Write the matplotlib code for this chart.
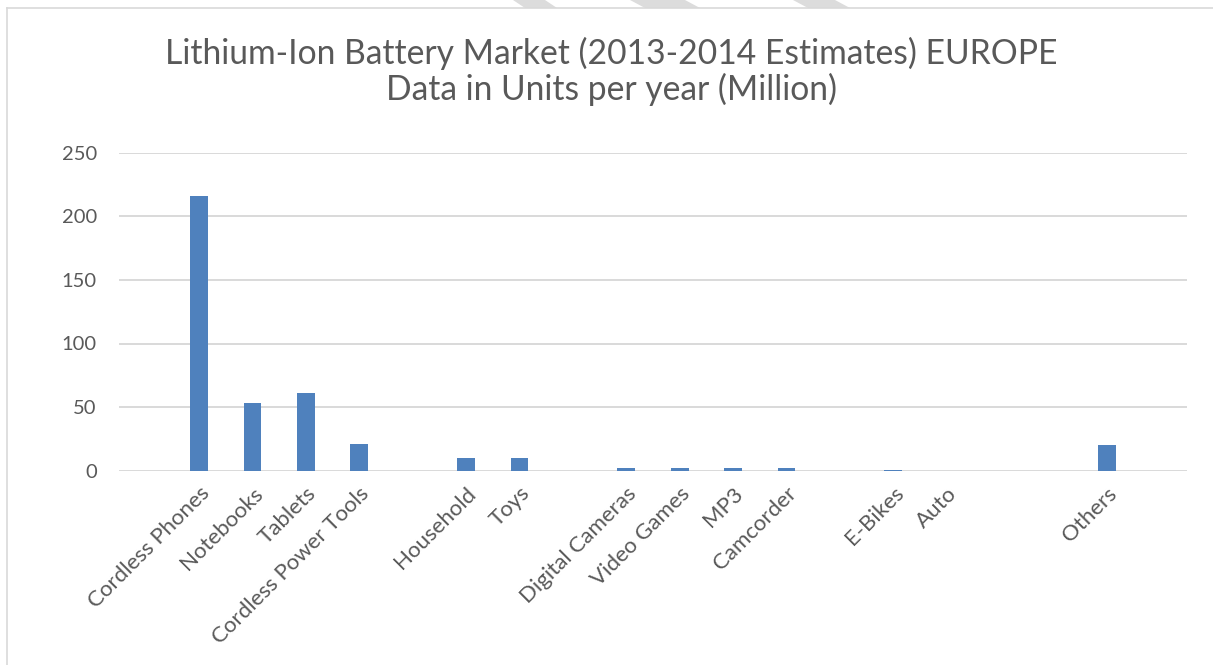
import numpy as np
import matplotlib
matplotlib.use("Agg")
import matplotlib.pyplot as plt
from matplotlib.patches import Polygon
from matplotlib.lines import Line2D

# data (million units); blank slots are empty categories
categories = ['', 'Cordless Phones', 'Notebooks', 'Tablets', 'Cordless Power Tools', '',
              'Household', 'Toys', '', 'Digital Cameras', 'Video Games', 'MP3', 'Camcorder', '',
              'E-Bikes', 'Auto', '', '', 'Others', '']
units = [np.nan, 216, 53, 61, 21, np.nan,
         10, 10, np.nan, 2, 2, 2, 2, np.nan,
         0.5, 0, np.nan, np.nan, 20, np.nan]
yticks = [0, 50, 100, 150, 200, 250]

title_lines = ['Lithium-Ion Battery Market (2013-2014 Estimates) EUROPE',
               'Data in Units per year (Million)']

text_color = '#595959'
bar_color = '#4f81bd'
grid_color = '#d9d9d9'

plt.rcParams['font.family'] = ['Lato', 'DejaVu Sans']

W, H = 1213, 665
fig = plt.figure(figsize=(W / 100, H / 100), dpi=100)
ax = fig.add_axes([119 / W, 1 - 470.7 / H, (1187 - 119) / W, (470.7 - 152.7) / H])

x = np.arange(len(categories))
ax.bar(x, units, width=0.33, color=bar_color, zorder=3)

ax.set_xlim(-0.5, len(categories) - 0.5)
ax.set_ylim(0, 250)
ax.set_yticks(yticks)
ax.set_yticklabels([str(v) for v in yticks], fontsize=14.5, color=text_color)
ax.set_xticks(x)
ax.set_xticklabels(categories, rotation=45, ha='right', va='top', rotation_mode='anchor',
                   fontsize=16, color=text_color)
ax.tick_params(axis='both', length=0)
ax.tick_params(axis='y', pad=16)
ax.tick_params(axis='x', pad=9)

ax.grid(axis='y', color=grid_color, lw=1.4, zorder=0)
for s in ax.spines.values():
    s.set_visible(False)

cx = 0.5 * (165 + 1057) / W
for line, base in zip(title_lines, [64.3, 99.5]):
    fig.text(cx, 1 - base / H, line, ha='center', va='baseline',
             fontsize=24.2, color=text_color)

# chart border (top and left visible)
fig.add_artist(Line2D([7 / W, 1], [1 - 8 / H, 1 - 8 / H], color=grid_color, lw=1.2))
fig.add_artist(Line2D([7 / W, 7 / W], [1 - 8 / H, 0], color=grid_color, lw=1.2))

# cropped watermark stripes above the border
for x0, x1, x2, x3 in [(513, 545, 557, 525), (630, 685, 700, 645), (793, 835, 850, 808)]:
    fig.add_artist(Polygon([(x0 / W, 1), (x1 / W, 1), (x2 / W, 1 - 8 / H), (x3 / W, 1 - 8 / H)],
                           closed=True, facecolor='#dcdcdc', edgecolor='none',
                           transform=fig.transFigure))

fig.savefig('out.png', dpi=100, facecolor='white')
